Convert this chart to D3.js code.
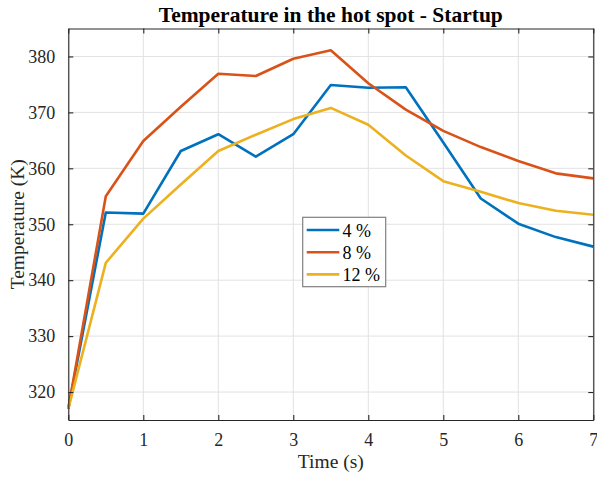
<!DOCTYPE html>
<html>
<head>
<meta charset="utf-8">
<script src="https://cdn.jsdelivr.net/npm/d3@7"></script>
<style>
  html, body { margin: 0; padding: 0; background: #fff; }
  svg { display: block; }
</style>
</head>
<body>
<svg id="chart" width="597" height="477"></svg>
<script>
// Time samples (s)
const times = [0, 0.5, 1, 1.5, 2, 2.5, 3, 3.5, 4, 4.5, 5, 5.5, 6, 6.5, 7];

// Hot-spot temperature (K) for each case
const temp4 = [317, 352.1, 351.9, 363.1, 366.1, 362.1, 366.1, 374.9, 374.4, 374.5, 364.6, 354.6, 350.1, 347.7, 346.0];
const temp8 = [317, 355.0, 364.9, 371.0, 376.9, 376.5, 379.6, 381.1, 375.2, 370.5, 366.7, 363.8, 361.3, 359.1, 358.2];
const temp12 = [317, 343.1, 351.0, 357.1, 363.1, 366.0, 368.8, 370.8, 367.8, 362.3, 357.7, 355.8, 353.8, 352.4, 351.7];

const seriesNames = ["4 %", "8 %", "12 %"];
const seriesColors = ["#0072BD", "#D95319", "#EDB120"];

const xTicks = [0, 1, 2, 3, 4, 5, 6, 7];
const yTicks = [320, 330, 340, 350, 360, 370, 380];

const FONT = "'Liberation Serif', 'Times New Roman', 'DejaVu Serif', serif";

const svg = d3.select("#chart").attr("font-family", FONT);
const W = 597, H = 477;
const x0 = 68.3, x1 = 593.3, y0 = 420, y1 = 28.5;

const x = d3.scaleLinear().domain([0, 7]).range([x0, x1]);
const y = d3.scaleLinear().domain([315, 385]).range([y0, y1]);

const axisColor = "#262626";

// Grid
const grid = svg.append("g");
grid.selectAll("line.gx").data(xTicks).join("line")
  .attr("x1", d => x(d)).attr("x2", d => x(d))
  .attr("y1", y0).attr("y2", y1)
  .attr("stroke", "#e2e2e2").attr("stroke-width", 1);
grid.selectAll("line.gy").data(yTicks).join("line")
  .attr("y1", d => y(d)).attr("y2", d => y(d))
  .attr("x1", x0).attr("x2", x1)
  .attr("stroke", "#e2e2e2").attr("stroke-width", 1);

// Lines
const seriesData = [temp4, temp8, temp12];
const line = d3.line().x((d, i) => x(times[i])).y(d => y(d));
svg.append("g").selectAll("path").data(seriesData).join("path")
  .attr("d", d => line(d))
  .attr("fill", "none")
  .attr("stroke", (d, i) => seriesColors[i])
  .attr("stroke-width", 2.6)
  .attr("stroke-linejoin", "round");

// Axes with inward ticks, box on all sides
const tickLen = 5;
const fontSize = 18;
const fmt = d3.format("d");
const bottomAxis = d3.axisBottom(x).tickValues(xTicks).tickFormat(fmt).tickSizeInner(-tickLen).tickSizeOuter(0).tickPadding(13);
const leftAxis = d3.axisLeft(y).tickValues(yTicks).tickFormat(fmt).tickSizeInner(-tickLen).tickSizeOuter(0).tickPadding(13);
const topAxis = d3.axisTop(x).tickValues(xTicks).tickSizeInner(-tickLen).tickSizeOuter(0).tickFormat("");
const rightAxis = d3.axisRight(y).tickValues(yTicks).tickSizeInner(-tickLen).tickSizeOuter(0).tickFormat("");

function styleAxis(g) {
  g.attr("font-family", FONT).attr("font-size", fontSize);
  g.select(".domain").attr("stroke", axisColor).attr("stroke-width", 1.1);
  g.selectAll(".tick line").attr("stroke", axisColor).attr("stroke-width", 1.1);
  g.selectAll(".tick text").attr("fill", axisColor);
}
svg.append("g").attr("transform", `translate(0,${y0})`).call(bottomAxis).call(styleAxis);
svg.append("g").attr("transform", `translate(${x0},0)`).call(leftAxis).call(styleAxis);
svg.append("g").attr("transform", `translate(0,${y1})`).call(topAxis).call(styleAxis);
svg.append("g").attr("transform", `translate(${x1},0)`).call(rightAxis).call(styleAxis);

// Title and axis labels
svg.append("text")
  .attr("x", (x0 + x1) / 2).attr("y", 22)
  .attr("text-anchor", "middle")
  .attr("font-weight", "bold").attr("font-size", 21.5)
  .attr("fill", "#000")
  .text("Temperature in the hot spot - Startup");

svg.append("text")
  .attr("x", (x0 + x1) / 2).attr("y", 468)
  .attr("text-anchor", "middle")
  .attr("font-size", 19.5).attr("fill", axisColor)
  .text("Time (s)");

svg.append("text")
  .attr("transform", `translate(24,${(y0 + y1) / 2}) rotate(-90)`)
  .attr("text-anchor", "middle")
  .attr("font-size", 19.5).attr("fill", axisColor)
  .text("Temperature (K)");

// Legend
const lg = svg.append("g").attr("transform", "translate(302.7,217.3)");
lg.append("rect").attr("width", 83).attr("height", 69.4)
  .attr("fill", "#fff").attr("stroke", "#808080").attr("stroke-width", 1.2);
const rows = lg.selectAll("g.row").data(seriesNames).join("g")
  .attr("transform", (d, i) => `translate(0,${12.7 + i * 22.2})`);
rows.append("line").attr("x1", 4).attr("x2", 36.6).attr("y1", 0).attr("y2", 0)
  .attr("stroke", (d, i) => seriesColors[i]).attr("stroke-width", 2.6);
rows.append("text").attr("x", 39.8).attr("y", 6.5)
  .attr("font-size", 18).attr("fill", "#000")
  .text(d => d);
</script>
</body>
</html>
